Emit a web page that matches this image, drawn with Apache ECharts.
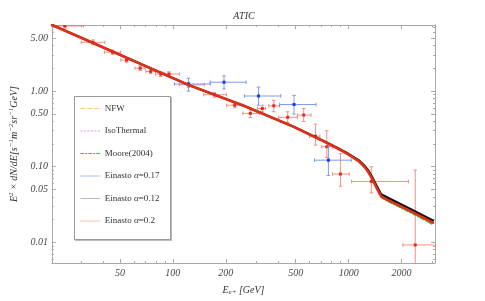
<!DOCTYPE html>
<html><head><meta charset="utf-8">
<script src="https://cdn.jsdelivr.net/npm/echarts@6/dist/echarts.min.js"></script>
<style>html,body{margin:0;padding:0;background:#fff}#c{width:485px;height:301px}</style>
</head><body><div id="c"></div>
<script>
// ---- data ----
const curveE     = [20.55, 35.2, 62.5, 122.7, 255.4, 484, 741, 861, 979, 1070, 1156, 1237, 1297, 1347, 1436, 1531, 1675, 2247, 3016];
const einasto02  = [7.48, 4.33, 2.40, 1.207, 0.635, 0.339, 0.210, 0.1754, 0.1489, 0.1309, 0.1154, 0.0979, 0.0843, 0.0726, 0.0538, 0.0405, 0.0362, 0.0259, 0.0182];
const einasto012 = [7.48, 4.33, 2.40, 1.207, 0.636, 0.340, 0.212, 0.1780, 0.1515, 0.1340, 0.1190, 0.1020, 0.0885, 0.0765, 0.0572, 0.0433, 0.0388, 0.0277, 0.0195];
const einasto017 = [7.48, 4.33, 2.40, 1.207, 0.635, 0.339, 0.210, 0.1760, 0.1495, 0.1318, 0.1165, 0.0990, 0.0855, 0.0736, 0.0546, 0.0412, 0.0369, 0.0264, 0.0186];
const moore      = [7.48, 4.33, 2.40, 1.207, 0.634, 0.338, 0.209, 0.1745, 0.1480, 0.1300, 0.1145, 0.0970, 0.0833, 0.0715, 0.0528, 0.0392, 0.0346, 0.0247, 0.0172];
const isothermal = [7.48, 4.33, 2.40, 1.207, 0.634, 0.338, 0.209, 0.1748, 0.1483, 0.1303, 0.1148, 0.0973, 0.0836, 0.0719, 0.0531, 0.0396, 0.0351, 0.0251, 0.0175];
const nfw        = [7.48, 4.33, 2.40, 1.207, 0.634, 0.338, 0.209, 0.1750, 0.1485, 0.1305, 0.1150, 0.0975, 0.0839, 0.0722, 0.0534, 0.0400, 0.0355, 0.0254, 0.0178];

// red data: E, F, Elo, Ehi, Flo, Fhi
const redE   = [24.3, 35.1, 45.4, 54.5, 65.2, 74.8, 85.3, 95.0, 122.6, 172.5, 224.9, 276, 323, 375, 450, 555, 648, 751, 898, 1346, 2393];
const redF   = [7.26, 4.41, 3.27, 2.57, 2.01, 1.82, 1.68, 1.68, 1.21, 0.895, 0.65, 0.507, 0.589, 0.639, 0.45, 0.482, 0.253, 0.184, 0.080, 0.0638, 0.00923];
const redElo = [19.0, 30.1, 40.8, 50.5, 60.9, 70.1, 79.7, 89.5, 108.8, 149.8, 202, 250, 303, 351, 400, 511, 598, 703, 809, 1040, 2035];
const redEhi = [31.0, 41.0, 50.5, 58.5, 69.5, 79.7, 89.5, 108.8, 151, 202, 250, 310, 337, 405, 511, 611, 687, 809, 1008, 2189, 3200];
const redFlo = [6.80, 4.10, 3.05, 2.40, 1.88, 1.70, 1.56, 1.56, 1.12, 0.83, 0.60, 0.446, 0.533, 0.533, 0.387, 0.396, 0.193, 0.132, 0.0552, 0.0450, 0.004];
const redFhi = [7.75, 4.75, 3.50, 2.75, 2.15, 1.95, 1.80, 1.80, 1.30, 0.96, 0.70, 0.560, 0.650, 0.755, 0.533, 0.589, 0.365, 0.299, 0.149, 0.100, 0.0904];

const blueE   = [122.6, 195.4, 307, 489, 767];
const blueF   = [1.24, 1.31, 0.861, 0.664, 0.122];
const blueElo = [102, 163, 255.5, 405, 640];
const blueEhi = [163, 261, 411, 652, 1035];
const blueFlo = [1.0, 1.07, 0.65, 0.497, 0.0764];
const blueFhi = [1.48, 1.59, 1.127, 0.877, 0.187];

const xMajor = [50, 100, 200, 500, 1000, 2000];
const xMinor = [30, 40, 60, 70, 80, 90, 300, 400, 600, 700, 800, 900, 3000];
const yMajor = [0.01, 0.05, 0.1, 0.5, 1, 5];
const yMinor = [0.006, 0.007, 0.008, 0.009, 0.02, 0.03, 0.04, 0.06, 0.07, 0.08, 0.09, 0.2, 0.3, 0.4, 0.6, 0.7, 0.8, 0.9, 2, 3, 4, 6, 7];

// ---- chart ----
const XMIN = 20.5, XMAX = 3100, YMIN = 0.00533, YMAX = 7.48;
const SERIF = '"Liberation Serif", "DejaVu Serif", serif';
const frameColor = '#a8a8a8';

function xAx(pos, major, showLine) {
  return {
    type: 'log', position: pos, min: XMIN, max: XMAX,
    axisLine: { show: showLine, onZero: false, lineStyle: { color: frameColor, width: 1 } },
    axisTick: { show: true, inside: true, length: major ? 4 : 2, lineStyle: { color: frameColor },
      customValues: major ? xMajor : xMinor },
    axisLabel: { show: major && pos === 'bottom', customValues: xMajor, formatter: v => String(Math.round(v)),
      fontFamily: SERIF, fontStyle: 'italic', fontSize: 10, color: '#444', margin: 5 },
    splitLine: { show: false }
  };
}
function yAx(pos, major, showLine) {
  return {
    type: 'log', position: pos, min: YMIN, max: YMAX,
    axisLine: { show: showLine, onZero: false, lineStyle: { color: frameColor, width: 1 } },
    axisTick: { show: true, inside: true, length: major ? 4 : 2, lineStyle: { color: frameColor },
      customValues: major ? yMajor : yMinor },
    axisLabel: { show: major && pos === 'left', customValues: yMajor, formatter: v => v.toFixed(2),
      fontFamily: SERIF, fontStyle: 'italic', fontSize: 10, color: '#444', margin: 4 },
    splitLine: { show: false }
  };
}

const xAxes = [xAx('bottom', true, true), xAx('top', true, true), xAx('bottom', false, false), xAx('top', false, false)];
xAxes[0].name = '{i|E}{sb|e}{sb|+}{i| [GeV]}';
xAxes[0].nameLocation = 'middle';
xAxes[0].nameGap = 21;
xAxes[0].nameTextStyle = { fontFamily: SERIF, fontStyle: 'italic', fontSize: 10, color: '#333',
  rich: { i: { fontFamily: SERIF, fontStyle: 'italic', fontSize: 10, color: '#333' },
          sb: { fontFamily: SERIF, fontStyle: 'italic', fontSize: 7, color: '#333', padding: [5, 0, 0, 0] } } };
const yAxes = [yAx('left', true, true), yAx('right', true, true), yAx('left', false, false), yAx('right', false, false)];
yAxes[0].name = '{i|E}{sp|2}{i| × dN/dE[s}{sp|−1}{i|m}{sp|−2}{i|sr}{sp|−1}{i|GeV]}';
yAxes[0].nameLocation = 'middle';
yAxes[0].nameRotate = 90;
yAxes[0].nameGap = 27;
yAxes[0].nameTextStyle = { fontFamily: SERIF, fontStyle: 'italic', fontSize: 10, color: '#333',
  rich: { i: { fontFamily: SERIF, fontStyle: 'italic', fontSize: 10, color: '#333' },
          sp: { fontFamily: SERIF, fontStyle: 'italic', fontSize: 7, color: '#333', padding: [0, 0, 6, 0] } } };

function zip2(a, b) { return a.map((v, i) => [v, b[i]]); }
function errData(E, F, Elo, Ehi, Flo, Fhi) { return E.map((v, i) => [v, F[i], Elo[i], Ehi[i], Flo[i], Fhi[i]]); }

function errSeries(name, data, barColor, ptColor) {
  return {
    type: 'custom', name: name, z: 1, clip: true,
    data: data,
    renderItem: function (params, api) {
      const c = api.coord([api.value(0), api.value(1)]);
      const l = api.coord([api.value(2), api.value(1)]);
      const r = api.coord([api.value(3), api.value(1)]);
      const b = api.coord([api.value(0), api.value(4)]);
      const t = api.coord([api.value(0), api.value(5)]);
      const st = { stroke: barColor, lineWidth: 1, fill: null };
      const cap = 1.8;
      return {
        type: 'group',
        children: [
          { type: 'line', shape: { x1: l[0], y1: c[1], x2: r[0], y2: c[1] }, style: st },
          { type: 'line', shape: { x1: c[0], y1: t[1], x2: c[0], y2: b[1] }, style: st },
          { type: 'line', shape: { x1: l[0], y1: c[1] - cap, x2: l[0], y2: c[1] + cap }, style: st },
          { type: 'line', shape: { x1: r[0], y1: c[1] - cap, x2: r[0], y2: c[1] + cap }, style: st },
          { type: 'line', shape: { x1: c[0] - cap, y1: t[1], x2: c[0] + cap, y2: t[1] }, style: st },
          { type: 'line', shape: { x1: c[0] - cap, y1: b[1], x2: c[0] + cap, y2: b[1] }, style: st },
          { type: 'rect', shape: { x: c[0] - 1.5, y: c[1] - 1.5, width: 3, height: 3 }, style: { fill: ptColor } }
        ]
      };
    }
  };
}

function lineSeries(name, data, color, width, type, z) {
  return { type: 'line', name: name, data: zip2(curveE, data), symbol: 'none', smooth: false, z: z,
    lineStyle: { color: color, width: width, type: type, join: 'round', cap: 'round' }, itemStyle: { color: color }, clip: true, silent: true };
}

const hid = { opacity: 0, color: 'rgba(0,0,0,0)', borderWidth: 0 };
const legendItems = [
  { name: 'NFW', itemStyle: hid, lineStyle: { color: '#f9c68c', width: 1, type: [4, 3] } },
  { name: 'IsoThermal', itemStyle: hid, lineStyle: { color: '#d9a8e0', width: 1, type: [1.5, 2] } },
  { name: 'Moore(2004)', itemStyle: hid, lineStyle: { color: '#3cc83c', width: 1.2, type: [3, 2, 1, 2, 3, 2, 1, 2] } },
  { name: 'Einasto α=0.17', itemStyle: hid, lineStyle: { color: '#c8d4fa', width: 1.5, type: 'solid' } },
  { name: 'Einasto α=0.12', itemStyle: hid, lineStyle: { color: '#b8b8b8', width: 1, type: 'solid' } },
  { name: 'Einasto α=0.2', itemStyle: hid, lineStyle: { color: '#f9c0b0', width: 1, type: 'solid' } }
];

const option = {
  animation: false,
  backgroundColor: '#fff',
  title: { text: 'ATIC', left: 239, top: 6, textAlign: 'center',
    textStyle: { fontFamily: SERIF, fontStyle: 'italic', fontWeight: 'normal', fontSize: 10, color: '#333' } },
  grid: { left: 43, right: 50, top: 25, bottom: 34 },
  xAxis: xAxes,
  yAxis: yAxes,
  legend: {
    orient: 'vertical', left: 80, top: 104, itemWidth: 19, itemHeight: 10, itemGap: 13.5, z: 10,
    selectedMode: false, padding: 0,
    itemStyle: hid,
    data: legendItems,
    formatter: function (n) {
      const m = n.match(/^Einasto α(=.*)$/);
      if (m) return '{n|Einasto }{a|α}{n|' + m[1] + '}';
      return '{n|' + n + '}';
    },
    textStyle: { fontFamily: SERIF, fontSize: 9, color: '#333',
      rich: { n: { fontFamily: SERIF, fontSize: 9, color: '#333' }, a: { fontFamily: SERIF, fontStyle: 'italic', fontSize: 9, color: '#333' } } }
  },
  graphic: [
    { type: 'rect', left: 75, top: 97, shape: { width: 97, height: 144 }, z: 1,
      style: { fill: '#bbb', stroke: null } },
    { type: 'rect', left: 74, top: 96, shape: { width: 96, height: 143 }, z: 2,
      style: { fill: '#fff', stroke: '#999', lineWidth: 1 } }
  ],
  series: [
    errSeries('red', errData(redE, redF, redElo, redEhi, redFlo, redFhi), 'rgba(240,110,95,0.75)', '#e52a1a'),
    errSeries('blue', errData(blueE, blueF, blueElo, blueEhi, blueFlo, blueFhi), 'rgba(95,130,240,0.8)', '#1a38e0'),
    lineSeries('NFW', nfw, '#f0a050', 1.2, [4, 3], 3),
    lineSeries('IsoThermal', isothermal, '#c080d0', 1.2, [1.5, 2], 3),
    lineSeries('Moore(2004)', moore, '#3cc83c', 1.5, [4, 2, 1, 2], 3),
    lineSeries('Einasto α=0.17', einasto017, '#4060ff', 1.5, 'solid', 4),
    lineSeries('Einasto α=0.12', einasto012, '#111111', 2.2, 'solid', 5),
    lineSeries('Einasto α=0.2', einasto02, '#e0301a', 2.6, 'solid', 6)
  ]
};
const chart = echarts.init(document.getElementById('c'), null, { renderer: 'canvas' });
chart.setOption(option);
</script></body></html>
